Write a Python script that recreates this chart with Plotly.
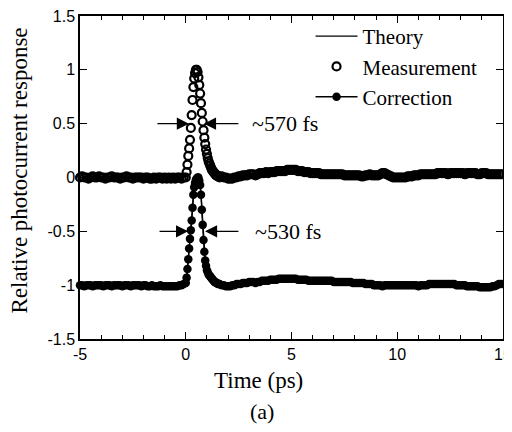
import plotly.graph_objects as go

# time grid (ps): baseline before the pulse, pulse region, tail
t_pre = [-5.0, -4.9, -4.8, -4.7, -4.6, -4.5, -4.4, -4.3, -4.2, -4.1,
         -4.0, -3.9, -3.8, -3.7, -3.6, -3.5, -3.4, -3.3, -3.2, -3.1,
         -3.0, -2.9, -2.8, -2.7, -2.6, -2.5, -2.4, -2.3, -2.2, -2.1,
         -2.0, -1.9, -1.8, -1.7, -1.6, -1.5, -1.4, -1.3, -1.2, -1.1,
         -1.0, -0.9, -0.8, -0.7, -0.6, -0.5, -0.4, -0.3, -0.2, -0.1]
t_peak = [0.00, 0.04, 0.08, 0.12, 0.16, 0.20, 0.24, 0.28, 0.32, 0.36,
          0.40, 0.44, 0.48, 0.52, 0.56, 0.60, 0.64, 0.68, 0.72, 0.76,
          0.80, 0.84, 0.88, 0.92, 0.96, 1.00, 1.04, 1.08, 1.12, 1.16,
          1.20, 1.24, 1.28, 1.32, 1.36, 1.40, 1.44, 1.48, 1.52, 1.56, 1.60]
t_post = [1.7, 1.8, 1.9, 2.0, 2.1, 2.2, 2.3, 2.4, 2.5, 2.6,
          2.7, 2.8, 2.9, 3.0, 3.1, 3.2, 3.3, 3.4, 3.5, 3.6,
          3.7, 3.8, 3.9, 4.0, 4.1, 4.2, 4.3, 4.4, 4.5, 4.6,
          4.7, 4.8, 4.9, 5.0, 5.1, 5.2, 5.3, 5.4, 5.5, 5.6,
          5.7, 5.8, 5.9, 6.0, 6.1, 6.2, 6.3, 6.4, 6.5, 6.6,
          6.7, 6.8, 6.9, 7.0, 7.1, 7.2, 7.3, 7.4, 7.5, 7.6,
          7.7, 7.8, 7.9, 8.0, 8.1, 8.2, 8.3, 8.4, 8.5, 8.6,
          8.7, 8.8, 8.9, 9.0, 9.1, 9.2, 9.3, 9.4, 9.5, 9.6,
          9.7, 9.8, 9.9, 10.0, 10.1, 10.2, 10.3, 10.4, 10.5, 10.6,
          10.7, 10.8, 10.9, 11.0, 11.1, 11.2, 11.3, 11.4, 11.5, 11.6,
          11.7, 11.8, 11.9, 12.0, 12.1, 12.2, 12.3, 12.4, 12.5, 12.6,
          12.7, 12.8, 12.9, 13.0, 13.1, 13.2, 13.3, 13.4, 13.5, 13.6,
          13.7, 13.8, 13.9, 14.0, 14.1, 14.2, 14.3, 14.4, 14.5, 14.6,
          14.7, 14.8, 14.9, 15.0]

# measurement (open circles)
meas_pre = [0.00, 0.01, 0.00, 0.00, -0.01, 0.00, 0.01, 0.00, 0.00, 0.01,
            0.00, 0.00, -0.01, 0.00, 0.00, 0.01, 0.00, 0.00, 0.00, -0.01,
            0.00, 0.00, 0.01, 0.00, 0.00, -0.01, 0.00, 0.00, 0.00, 0.00,
            -0.01, 0.00, 0.00, -0.01, -0.01, 0.00, -0.01, 0.00, 0.00, -0.01,
            0.00, -0.01, 0.00, -0.01, 0.00, -0.01, 0.00, 0.00, -0.01, 0.00]
meas_peak = [0.00, 0.05, 0.12, 0.20, 0.27, 0.35, 0.46, 0.58, 0.72, 0.84,
             0.92, 0.97, 1.00, 1.00, 0.98, 0.93, 0.86, 0.78, 0.69, 0.60,
             0.52, 0.44, 0.37, 0.31, 0.26, 0.22, 0.18, 0.15, 0.13, 0.11,
             0.09, 0.07, 0.06, 0.05, 0.04, 0.03, 0.02, 0.02, 0.01, 0.01, 0.00]
meas_post = [0.01, 0.00, 0.00, -0.01, -0.01, -0.01, 0.00, 0.00, 0.01, 0.01,
             0.02, 0.02, 0.02, 0.03, 0.03, 0.03, 0.02, 0.03, 0.04, 0.04,
             0.04, 0.05, 0.04, 0.05, 0.05, 0.05, 0.06, 0.06, 0.06, 0.06,
             0.06, 0.07, 0.07, 0.07, 0.07, 0.07, 0.06, 0.06, 0.06, 0.05,
             0.05, 0.05, 0.04, 0.04, 0.04, 0.04, 0.04, 0.03, 0.03, 0.03,
             0.03, 0.03, 0.03, 0.03, 0.03, 0.03, 0.03, 0.03, 0.02, 0.02,
             0.02, 0.02, 0.02, 0.02, 0.02, 0.02, 0.01, 0.01, 0.02, 0.02,
             0.03, 0.02, 0.02, 0.02, 0.02, 0.03, 0.04, 0.04, 0.03, 0.02,
             0.01, 0.00, 0.00, 0.00, 0.00, 0.00, 0.00, 0.00, 0.01, 0.01,
             0.01, 0.02, 0.02, 0.02, 0.03, 0.03, 0.03, 0.03, 0.03, 0.03,
             0.03, 0.03, 0.04, 0.04, 0.04, 0.04, 0.04, 0.03, 0.04, 0.04,
             0.04, 0.04, 0.04, 0.04, 0.04, 0.03, 0.04, 0.04, 0.04, 0.04,
             0.04, 0.03, 0.03, 0.04, 0.04, 0.04, 0.03, 0.03, 0.03, 0.03,
             0.03, 0.03, 0.03, 0.03]

# correction (filled circles + line), offset by -1
corr_pre = [-1.00, -1.00, -1.01, -1.00, -1.00, -1.00, -1.01, -1.00, -1.00, -1.00,
            -1.00, -1.01, -1.00, -1.00, -1.00, -1.01, -1.00, -1.00, -1.00, -1.00,
            -1.01, -1.00, -1.00, -1.00, -1.01, -1.00, -1.00, -1.00, -1.00, -1.01,
            -1.00, -1.00, -1.01, -1.01, -1.00, -1.01, -1.01, -1.01, -1.00, -1.01,
            -1.01, -1.01, -1.01, -1.01, -1.01, -1.01, -1.01, -1.00, -1.00, -0.99]
corr_peak = [-0.98, -0.93, -0.85, -0.76, -0.66, -0.57, -0.49, -0.40, -0.28, -0.16,
             -0.09, -0.05, -0.02, -0.01, 0.00, 0.00, -0.03, -0.07, -0.16, -0.30,
             -0.44, -0.58, -0.69, -0.77, -0.82, -0.86, -0.88, -0.90, -0.91, -0.92,
             -0.93, -0.94, -0.95, -0.96, -0.97, -0.97, -0.98, -0.98, -0.99, -0.99, -0.99]
corr_post = [-1.00, -1.00, -1.01, -1.01, -1.01, -1.00, -1.00, -0.99, -0.99, -0.99,
             -0.98, -0.98, -0.98, -0.97, -0.97, -0.97, -0.98, -0.97, -0.97, -0.96,
             -0.96, -0.96, -0.96, -0.95, -0.95, -0.95, -0.95, -0.94, -0.94, -0.94,
             -0.94, -0.94, -0.94, -0.94, -0.94, -0.94, -0.95, -0.95, -0.95, -0.95,
             -0.95, -0.96, -0.96, -0.96, -0.96, -0.96, -0.96, -0.96, -0.96, -0.96,
             -0.96, -0.96, -0.96, -0.97, -0.97, -0.97, -0.97, -0.97, -0.97, -0.97,
             -0.97, -0.97, -0.98, -0.98, -0.98, -0.98, -0.98, -0.98, -0.99, -0.99,
             -0.99, -0.99, -1.00, -1.00, -1.00, -1.00, -1.01, -1.00, -1.00, -1.00,
             -1.00, -1.00, -1.00, -1.00, -1.00, -1.00, -1.00, -1.00, -1.00, -1.00,
             -1.00, -1.00, -1.00, -1.01, -1.00, -1.00, -1.00, -1.00, -0.99, -0.99,
             -0.99, -0.99, -0.99, -0.99, -0.99, -0.99, -0.99, -0.99, -0.99, -0.99,
             -0.99, -1.00, -1.00, -1.00, -1.00, -1.00, -1.01, -1.01, -1.01, -1.01,
             -1.01, -1.01, -1.02, -1.02, -1.02, -1.02, -1.02, -1.02, -1.01, -1.01,
             -1.00, -0.99, -0.99, -0.99]

# theory curve (sits under the corrected data)
t_theory = [-5.0, -0.1, 0.0, 0.1, 0.2, 0.3, 0.4, 0.5, 0.6, 0.7, 0.8, 0.9,
            1.0, 1.2, 1.5, 2.0, 3.0, 5.0, 8.0, 10.0, 12.0, 15.0]
theory = [-1.00, -1.00, -0.98, -0.81, -0.57, -0.34, -0.09, -0.015, 0.00, -0.11,
          -0.44, -0.74, -0.86, -0.93, -0.97, -1.00, -0.97, -0.94, -0.97, -1.00,
          -0.99, -0.99]

x_ticks = [-5, 0, 5, 10, 15]
x_labels = ["-5", "0", "5", "10", "15"]
y_ticks = [-1.5, -1, -0.5, 0, 0.5, 1, 1.5]
y_labels = ["-1.5", "-1", "-0.5", "0", "0.5", "1", "1.5"]

t_all = t_pre + t_peak + t_post
meas = meas_pre + meas_peak + meas_post
corr = corr_pre + corr_peak + corr_post

SERIF = "Liberation Serif, Times New Roman, serif"
SANS = "Liberation Sans, Arial, sans-serif"

fig = go.Figure()
fig.add_trace(go.Scatter(x=t_theory, y=theory, mode="lines", name="Theory",
                         line=dict(color="black", width=1.2, shape="spline"),
                         cliponaxis=False))
fig.add_trace(go.Scatter(x=t_all, y=meas, mode="markers", name="Measurement",
                         marker=dict(symbol="circle-open", size=8, color="black",
                                     line=dict(width=2.2, color="black")),
                         cliponaxis=False))
fig.add_trace(go.Scatter(x=t_all, y=corr, mode="lines+markers", name="Correction",
                         line=dict(color="black", width=1.5),
                         marker=dict(symbol="circle", size=8.5, color="black"),
                         cliponaxis=False))

# FWHM arrows
arrows = [(0.15, 0.5, -1.41), (0.86, 0.5, 2.56), (0.11, -0.5, -1.31), (0.91, -0.5, 2.56)]
for tip, yy, tail in arrows:
    fig.add_annotation(x=tip, y=yy, ax=tail, ay=yy, xref="x", yref="y",
                       axref="x", ayref="y", text="", showarrow=True,
                       arrowhead=2, arrowsize=2.2, arrowwidth=1.1, arrowcolor="black")
fig.add_annotation(x=3.04, y=0.5, text="~570 fs", showarrow=False, xanchor="left",
                   font=dict(family=SERIF, size=22, color="black"))
fig.add_annotation(x=3.18, y=-0.5, text="~530 fs", showarrow=False, xanchor="left",
                   font=dict(family=SERIF, size=22, color="black"))

# axis titles and panel label as annotations for exact placement
fig.add_annotation(x=0.421, y=-0.127, xref="paper", yref="paper", text="Time (ps)",
                   showarrow=False, xanchor="center", yanchor="middle",
                   font=dict(family=SERIF, size=23, color="black"))
fig.add_annotation(x=-0.143, y=0.52, xref="paper", yref="paper",
                   text="Relative photocurrent response", textangle=-90,
                   showarrow=False, xanchor="center", yanchor="middle",
                   font=dict(family=SERIF, size=23, color="black"))
fig.add_annotation(x=0.43, y=-0.223, xref="paper", yref="paper", text="(a)",
                   showarrow=False, xanchor="center", yanchor="middle",
                   font=dict(family=SERIF, size=22, color="black"))

axis_common = dict(showline=True, linecolor="black", linewidth=1.5, mirror="allticks",
                   ticks="inside", ticklen=7, tickwidth=1.2, tickcolor="black",
                   showgrid=False, zeroline=False, automargin=False,
                   ticklabeloverflow="allow",
                   tickfont=dict(family=SANS, size=16, color="black"))
fig.update_xaxes(range=[-5, 15], tickvals=x_ticks, ticktext=x_labels,
                 minor=dict(dtick=1, ticks="inside", ticklen=4, tickcolor="black"),
                 **axis_common)
fig.update_yaxes(range=[-1.5, 1.5], tickvals=y_ticks, ticktext=y_labels,
                 **axis_common)

# the page adds an 8px body margin on every side, so the figure is sized
# to fit the window
fig.update_layout(
    width=504, height=416,
    margin=dict(l=72, r=9, t=8, b=85),
    plot_bgcolor="white", paper_bgcolor="white",
    showlegend=True,
    legend=dict(x=0.545, y=1.0, xanchor="left", yanchor="top",
                bgcolor="rgba(0,0,0,0)", itemwidth=42,
                font=dict(family=SERIF, size=21, color="black")),
)

fig.write_html("out.html")
